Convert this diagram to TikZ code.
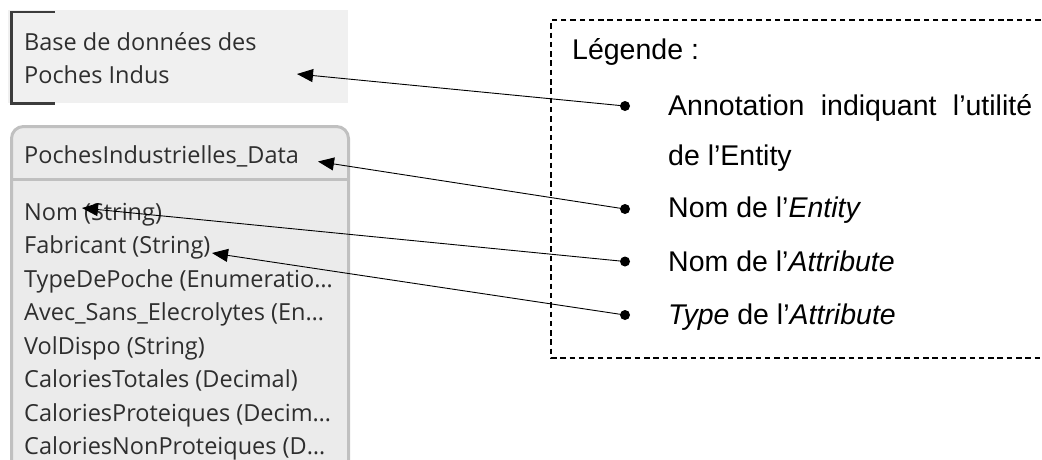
\documentclass[tikz,border=0pt]{standalone}
\usepackage{fontspec}
\setmainfont{Liberation Sans}
\newfontfamily\uifont{Open Sans}
\usetikzlibrary{arrows.meta}

\definecolor{notefill}{HTML}{F0F0F0}
\definecolor{entfill}{HTML}{EBEBEB}
\definecolor{entedge}{HTML}{C0C0C0}
\definecolor{uitext}{HTML}{2E2E2E}
\definecolor{bracketcol}{HTML}{3C3C3C}

\begin{document}
\begin{tikzpicture}[x=1pt, y=-1pt,
  uilabel/.style={anchor=base west, inner sep=0pt, text=uitext,
                  font=\uifont\fontsize{23.5}{28}\selectfont},
  legtext/.style={anchor=base west, inner sep=0pt,
                  font=\fontsize{28.5}{34}\selectfont},
  dot/.style={circle, fill=black, inner sep=0pt, minimum size=10pt},
  pointer/.style={line width=0.9pt, -{Triangle[length=16pt, width=13pt]}},
  legframe/.style={line width=1.1pt, dash pattern=on 5.5pt off 3.8pt},
]
\clip (0,0) rectangle (1042,459);
\fill[white] (0,0) rectangle (1042,459);

% annotation note with its bracket (three solid bars)
\fill[notefill] (8,10) rectangle (348,103);
\fill[bracketcol] (9.5,10.5) rectangle (12.5,105);
\fill[bracketcol] (9.5,10.5) rectangle (55,13.2);
\fill[bracketcol] (9.5,102.3) rectangle (55,105);
\node[uilabel] (note1) at (24,50) {Base de données des};
\node[uilabel] (note2) at (24,83) {Poches Indus};

% entity box
\draw[entedge, fill=entfill, line width=3pt, rounded corners=12pt]
  (11.5,126.5) rectangle (348.5,520);
\draw[entedge, line width=3pt] (11.5,179.5) -- (348.5,179.5);
\node[uilabel] (ename) at (24,163) {PochesIndustrielles\_Data};
\node[uilabel] (a1) at (24,220)   {Nom (String)};
\node[uilabel] (a2) at (24,253.5) {Fabricant (String)};
\node[uilabel] (a3) at (24,287)   {TypeDePoche (Enumeratio…};
\node[uilabel] (a4) at (24,320.5) {Avec\_Sans\_Elecrolytes (En…};
\node[uilabel] (a5) at (24,354)   {VolDispo (String)};
\node[uilabel] (a6) at (24,387.5) {CaloriesTotales (Decimal)};
\node[uilabel] (a7) at (24,421)   {CaloriesProteiques (Decim…};
\node[uilabel] (a8) at (24,454.5) {CaloriesNonProteiques (D…};

% legend frame (open on the right)
\draw[legframe] (1050,20) -- (551,20) -- (551,358) -- (1050,358);
\node[legtext] (legtitle) at (572,59) {Légende :};

\node[dot] (b1) at (625,106) {};
\node[legtext] (l1) at (668,115) {\makebox[364pt][s]{Annotation indiquant l’utilité}};
\node[legtext] (l1b) at (668,165) {de l’Entity};
\node[dot] (b2) at (625,209) {};
\node[legtext] (l2) at (668,217) {Nom de l’\textit{Entity}};
\node[dot] (b3) at (625,261.5) {};
\node[legtext] (l3) at (668,271) {Nom de l’\textit{Attribute}};
\node[dot] (b4) at (625,315) {};
\node[legtext] (l4) at (668,324) {\textit{Type} de l’\textit{Attribute}};

% arrow targets
\coordinate (t1) at (297,74);
\coordinate (t2) at (318,161.5);
\coordinate (t3) at (82,208);
\coordinate (t4) at (212,253);

\draw[pointer] (b1.center) -- (t1);
\draw[pointer] (b2.center) -- (t2);
\draw[pointer] (b3.center) -- (t3);
\draw[pointer] (b4.center) -- (t4);
\end{tikzpicture}
\end{document}
